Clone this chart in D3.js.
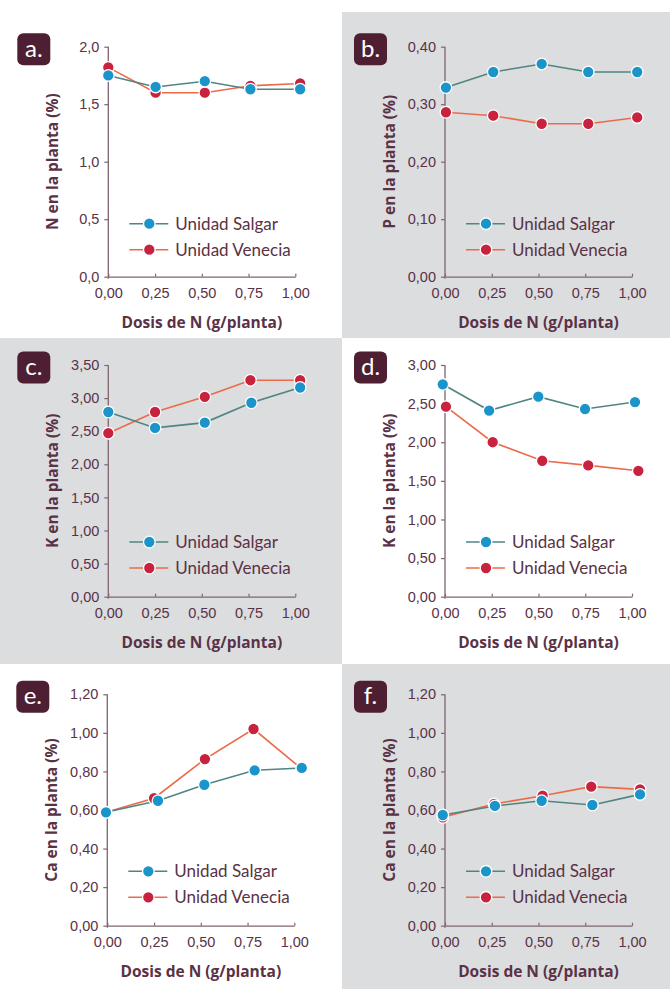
<!DOCTYPE html>
<html>
<head>
<meta charset="utf-8">
<script src="https://cdn.jsdelivr.net/npm/d3@7"></script>
<style>
  body { margin: 0; background: #fff; }
  svg { display: block; font-family: Lato, "Open Sans", sans-serif; }
</style>
</head>
<body>
<svg id="viz" width="670" height="989"></svg>
<script>
// Dosis de N (g/planta) tick labels
const doseTicks = [0, 0.25, 0.5, 0.75, 1];
const seriesNames = ["Unidad Salgar", "Unidad Venecia"];

// x positions as plotted (points are slightly off the ticks in the original)
const aSalgarX = [0, 0.253, 0.516, 0.76, 1.026];
const aSalgar = [1.75, 1.65, 1.70, 1.63, 1.63];
const aVeneciaX = [0, 0.253, 0.516, 0.76, 1.026];
const aVenecia = [1.82, 1.60, 1.60, 1.66, 1.68];

const bSalgarX = [0.005, 0.258, 0.517, 0.766, 1.028];
const bSalgar = [0.329, 0.356, 0.370, 0.356, 0.356];
const bVeneciaX = [0.005, 0.258, 0.517, 0.766, 1.028];
const bVenecia = [0.286, 0.280, 0.266, 0.266, 0.277];

const cSalgarX = [0, 0.25, 0.516, 0.765, 1.026];
const cSalgar = [2.79, 2.55, 2.63, 2.93, 3.16];
const cVeneciaX = [0, 0.25, 0.516, 0.76, 1.026];
const cVenecia = [2.47, 2.79, 3.02, 3.27, 3.27];

const dSalgarX = [-0.012, 0.236, 0.499, 0.749, 1.016];
const dSalgar = [2.75, 2.41, 2.59, 2.43, 2.52];
const dVeneciaX = [0.005, 0.255, 0.52, 0.766, 1.034];
const dVenecia = [2.46, 2.00, 1.76, 1.70, 1.63];

const eSalgarX = [-0.007, 0.271, 0.519, 0.788, 1.04];
const eSalgar = [0.588, 0.648, 0.731, 0.806, 0.818];
const eVeneciaX = [-0.007, 0.25, 0.522, 0.782, 1.04];
const eVenecia = [0.588, 0.661, 0.864, 1.02, 0.813];

const fSalgarX = [-0.012, 0.267, 0.517, 0.788, 1.043];
const fSalgar = [0.574, 0.621, 0.648, 0.626, 0.681];
const fVeneciaX = [-0.012, 0.262, 0.522, 0.782, 1.043];
const fVenecia = [0.562, 0.631, 0.674, 0.721, 0.707];

const panels = [
  { id: "a.", yTitle: "N en la planta (%)", max: 2.0, step: 0.5, dec: 1,
    sx: aSalgarX, s: aSalgar, vx: aVeneciaX, v: aVenecia,
    left: 108.3, top: 46.7, bottom: 276.7, bg: null },
  { id: "b.", yTitle: "P en la planta (%)", max: 0.4, step: 0.1, dec: 2,
    sx: bSalgarX, s: bSalgar, vx: bVeneciaX, v: bVenecia,
    left: 445, top: 46.7, bottom: 276.7, bg: [342, 12, 328, 326] },
  { id: "c.", yTitle: "K en la planta (%)", max: 3.5, step: 0.5, dec: 2,
    sx: cSalgarX, s: cSalgar, vx: cVeneciaX, v: cVenecia,
    left: 108.3, top: 365, bottom: 596.7, bg: [0, 338, 342, 326] },
  { id: "d.", yTitle: "K en la planta (%)", max: 3.0, step: 0.5, dec: 2,
    sx: dSalgarX, s: dSalgar, vx: dVeneciaX, v: dVenecia,
    left: 445, top: 365, bottom: 596.7, bg: null },
  { id: "e.", yTitle: "Ca en la planta (%)", max: 1.2, step: 0.2, dec: 2,
    sx: eSalgarX, s: eSalgar, vx: eVeneciaX, v: eVenecia,
    left: 107.3, top: 694.3, bottom: 925.7, bg: null },
  { id: "f.", yTitle: "Ca en la planta (%)", max: 1.2, step: 0.2, dec: 2,
    sx: fSalgarX, s: fSalgar, vx: fVeneciaX, v: fVenecia,
    left: 445, top: 694.3, bottom: 925.7, bg: [342, 664, 328, 325] }
];

const axisColor = "#806470";
const textColor = "#5a3246";
const badgeColor = "#4e1f33";
const greyBg = "#dcdddf";
const salgar = { dot: "#1b94c9", line: "#4f8582" };
const venecia = { dot: "#c8223f", line: "#ec6a4a" };

const svg = d3.select("#viz");
const plotW = 187;

panels.forEach(p => {
  if (p.bg) {
    svg.append("rect")
      .attr("x", p.bg[0]).attr("y", p.bg[1])
      .attr("width", p.bg[2]).attr("height", p.bg[3])
      .attr("fill", greyBg);
  }

  const x = d3.scaleLinear().domain([0, 1]).range([p.left, p.left + plotW]);
  const y = d3.scaleLinear().domain([0, p.max]).range([p.bottom, p.top]);
  const fmt = d => d3.format("." + p.dec + "f")(d).replace(".", ",");

  // y axis
  const yTicks = d3.range(0, p.max + p.step / 2, p.step);
  const gy = svg.append("g")
    .attr("transform", `translate(${p.left},0)`)
    .call(d3.axisLeft(y).tickValues(yTicks).tickFormat(fmt).tickSizeInner(4).tickSizeOuter(0).tickPadding(5));
  gy.select(".domain").attr("stroke", axisColor).attr("stroke-width", 1.3)
    .attr("d", `M0,${p.top}V${p.bottom + 2}`);
  gy.selectAll(".tick line").attr("stroke", axisColor).attr("stroke-width", 1.2);
  gy.selectAll(".tick text").attr("fill", textColor).attr("font-size", 14.5).attr("font-weight", 300);

  // x axis
  const gx = svg.append("g")
    .attr("transform", `translate(0,${p.bottom})`)
    .call(d3.axisBottom(x).tickValues(doseTicks).tickFormat(d3.format(".2f")).tickSizeInner(-3).tickSizeOuter(0).tickPadding(11));
  gx.select(".domain").attr("stroke", axisColor).attr("stroke-width", 1.3);
  gx.selectAll(".tick line").attr("stroke", axisColor).attr("stroke-width", 1.2);
  gx.selectAll(".tick text").attr("fill", textColor).attr("font-size", 14.5).attr("font-weight", 300)
    .text(d => d3.format(".2f")(d).replace(".", ","));

  // axis titles
  svg.append("text")
    .attr("transform", `translate(${p.left - 50},${(p.top + p.bottom) / 2}) rotate(-90)`)
    .attr("text-anchor", "middle")
    .attr("font-family", "'Open Sans', sans-serif")
    .attr("font-size", 15.5).attr("font-weight", 700)
    .attr("fill", textColor)
    .text(p.yTitle);
  svg.append("text")
    .attr("x", p.left + plotW / 2).attr("y", p.bottom + 51)
    .attr("text-anchor", "middle")
    .attr("font-family", "'Open Sans', sans-serif")
    .attr("font-size", 15.5).attr("font-weight", 700)
    .attr("fill", textColor)
    .text("Dosis de N (g/planta)");

  // badge
  svg.append("rect")
    .attr("x", p.left - 91).attr("y", p.top - 13.5)
    .attr("width", 33).attr("height", 32).attr("rx", 6)
    .attr("fill", badgeColor);
  svg.append("text")
    .attr("x", p.left - 74.5).attr("y", p.top + 10)
    .attr("text-anchor", "middle")
    .attr("font-size", 24).attr("font-weight", 400).attr("fill", "#fff")
    .text(p.id);

  // series
  const series = [
    { xs: p.vx, ys: p.v, c: venecia },
    { xs: p.sx, ys: p.s, c: salgar }
  ];
  const line = d3.line().x(d => x(d[0])).y(d => y(d[1]));
  series.forEach(sr => {
    const pts = sr.xs.map((xv, i) => [xv, sr.ys[i]]);
    svg.append("path").datum(pts)
      .attr("d", line).attr("fill", "none")
      .attr("stroke", sr.c.line).attr("stroke-width", 1.6);
  });
  series.forEach(sr => {
    const pts = sr.xs.map((xv, i) => [xv, sr.ys[i]]);
    svg.selectAll(null).data(pts).enter().append("circle")
      .attr("cx", d => x(d[0])).attr("cy", d => y(d[1]))
      .attr("r", 5.8)
      .attr("fill", sr.c.dot).attr("stroke", "#fff").attr("stroke-width", 1.3);
  });

  // legend
  [salgar, venecia].forEach((c, i) => {
    const ly = p.top + 177 + i * 26;
    svg.append("line")
      .attr("x1", p.left + 21).attr("x2", p.left + 60)
      .attr("y1", ly).attr("y2", ly)
      .attr("stroke", c.line).attr("stroke-width", 1.6);
    svg.append("circle")
      .attr("cx", p.left + 41).attr("cy", ly).attr("r", 5.8)
      .attr("fill", c.dot).attr("stroke", "#fff").attr("stroke-width", 1.3);
    svg.append("text")
      .attr("x", p.left + 67).attr("y", ly + 6)
      .attr("font-size", 17).attr("fill", textColor)
      .text(seriesNames[i]);
  });
});
</script>
</body>
</html>
